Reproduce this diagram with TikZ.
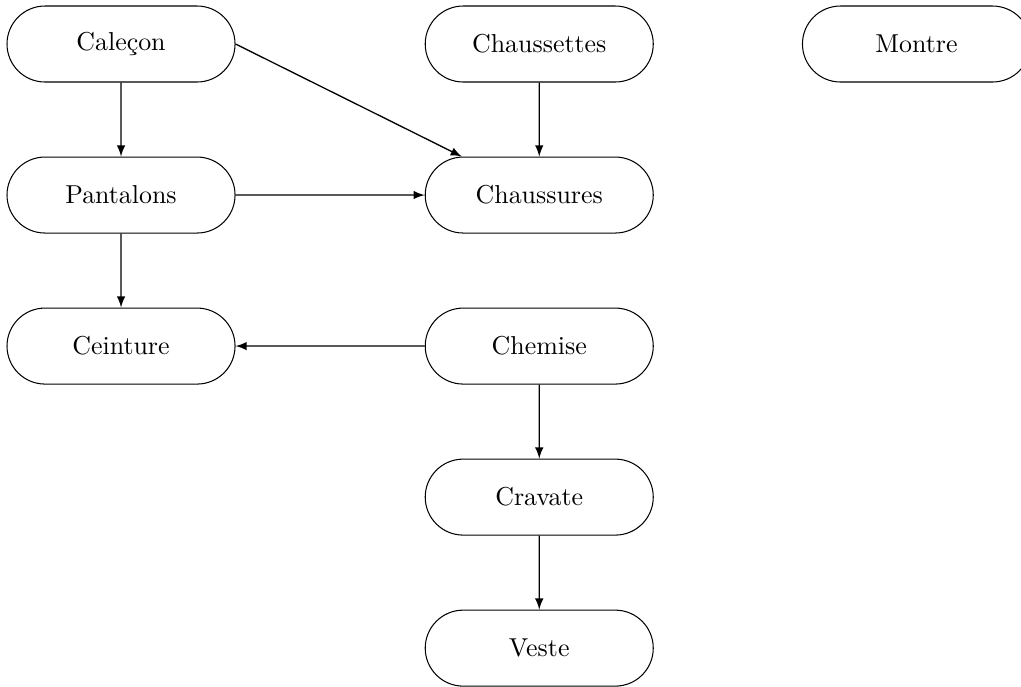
\documentclass[tikz,border=0pt]{standalone}
\usetikzlibrary{positioning,shapes.misc}

\begin{document}
\begin{tikzpicture}
      \tikzstyle{main}=[rounded rectangle, minimum width = 3.094cm, minimum height = 1.031cm, inner sep=0pt, draw=black, node distance = 1.004cm and 2.566cm]
      \tikzstyle{connect}=[-latex, line width=0.5pt]

      \useasboundingbox (-1.642,-8.712) rectangle (12.21,0.597);

      \node[main] (calecon) {Caleçon};
      \node[main] (pantalons) [below=of calecon] {Pantalons};
      \node[main] (ceinture) [below=of pantalons] {Ceinture};
      \node[main] (chaussettes) [right=of calecon] {Chaussettes};
      \node[main] (chaussures) [below=of chaussettes] {Chaussures};
      \node[main] (chemise) [below=of chaussures] {Chemise};
      \node[main] (cravate) [below=of chemise] {Cravate};
      \node[main] (veste) [below=of cravate] {Veste};
      \node[main] (montre) [right=2.01cm of chaussettes] {Montre};

      \path (calecon) edge [connect] (pantalons);
      \path (calecon.east) edge [connect] (chaussures);
      \path (chaussettes) edge [connect] (chaussures);
      \path (pantalons) edge [connect] (chaussures);
      \path (pantalons) edge [connect] (ceinture);
      \path (chemise) edge [connect] (ceinture);
      \path (chemise) edge [connect] (cravate);
      \path (cravate) edge [connect] (veste);
\end{tikzpicture}
\end{document}
